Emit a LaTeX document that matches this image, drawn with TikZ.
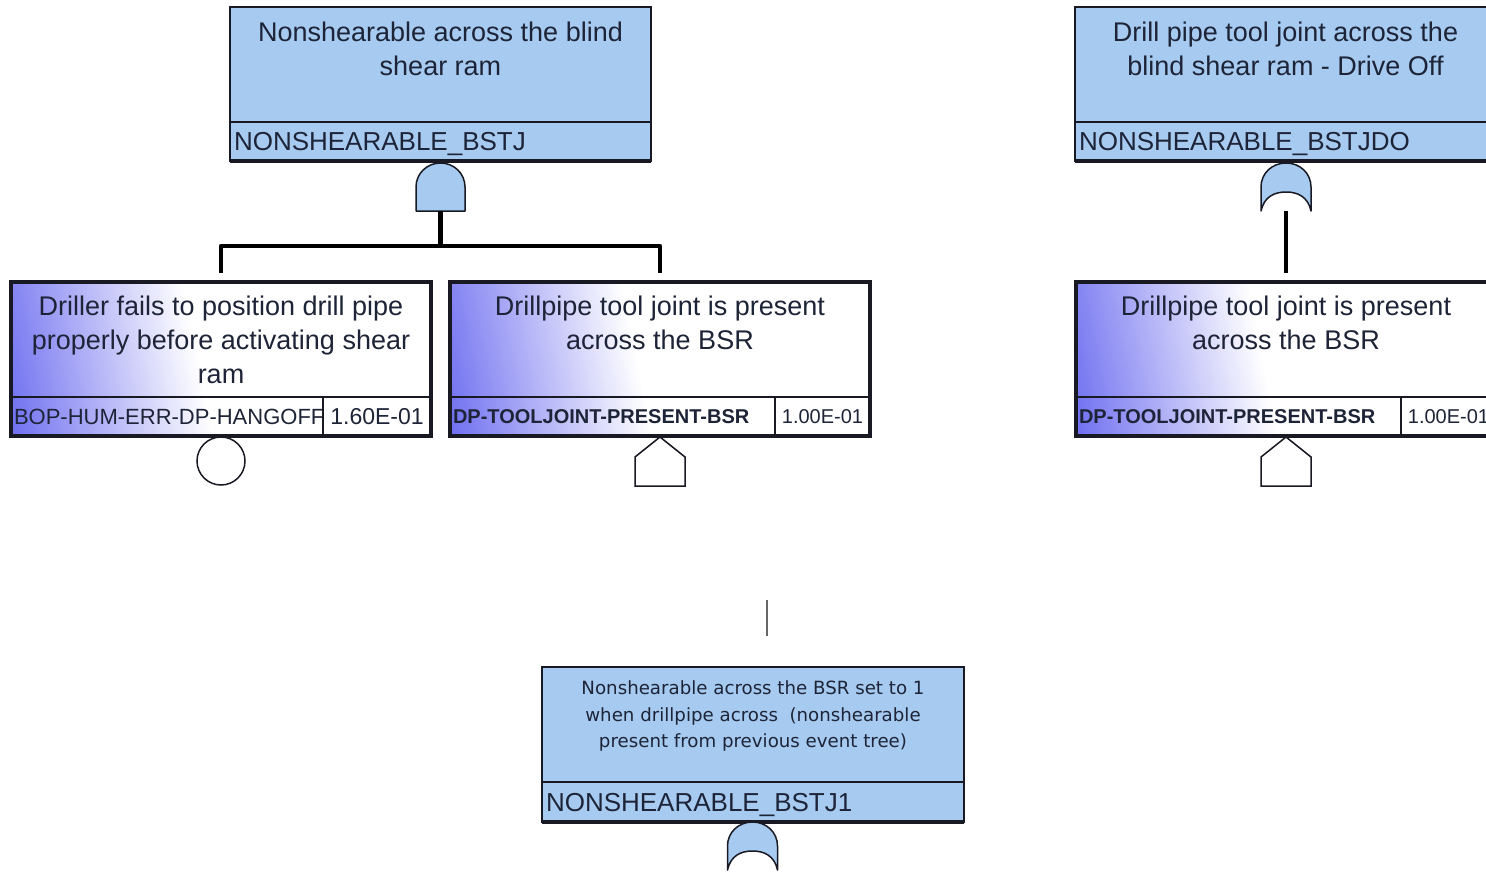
\documentclass[tikz,border=0pt]{standalone}
\usepackage{fontspec}
\setmainfont{Liberation Sans}
\newfontfamily\notefont{DejaVu Sans}
\usepackage{xcolor}
\usepackage{tikz}
\usetikzlibrary{positioning,backgrounds}

\definecolor{gateblue}{RGB}{166,202,240}
\definecolor{evblue}{RGB}{108,108,240}
\definecolor{edgeink}{RGB}{25,25,35}
\definecolor{ink}{RGB}{30,36,55}

% basic event fill: blue in the lower left corner, white from the middle on
\pgfdeclarehorizontalshading{evfade}{100bp}{color(0bp)=(evblue); color(20bp)=(evblue); color(47bp)=(white); color(100bp)=(white)}

\begin{document}
\begin{tikzpicture}[
  x=1pt, y=-1pt,
  text=ink,
  boxline/.style={draw=edgeink, line width=2pt, inner sep=0pt, outer sep=0pt},
  gatebox/.style={boxline, fill=gateblue, minimum width=421pt, minimum height=115pt},
  gateid/.style={boxline, fill=gateblue, minimum height=39pt, text width=413pt,
    inner xsep=4pt, align=left, font=\fontsize{26}{30}\selectfont,
    text height=19pt, text depth=0pt},
  boxtext/.style={align=center, inner sep=0pt, font=\fontsize{27}{34}\selectfont},
  eventbox/.style={boxline, minimum width=420pt, minimum height=115pt},
  eventid/.style={boxline, minimum height=39pt, inner xsep=3pt, align=left,
    font=\fontsize{22}{26}\selectfont, text height=15.8pt, text depth=0pt},
  eventcode/.style={eventid, font=\bfseries\fontsize{20}{24}\selectfont, text height=14.3pt},
  valuecell/.style={boxline, minimum height=39pt, font=\fontsize{20}{24}\selectfont,
    text height=14.3pt, text depth=0pt},
  frame/.style={draw=edgeink, line width=3.5pt},
  gateshape/.style={draw=edgeink, line width=1.5pt, fill=gateblue, line join=round},
  houseshape/.style={draw=edgeink, line width=1.5pt, fill=white},
  undev/.style={circle, draw=edgeink, line width=1.5pt, fill=white, minimum size=48pt, inner sep=0pt},
  link/.style={draw=black, line width=4.5pt, line join=round, shorten >=9pt},
  stub/.style={draw=black!60, line width=1.5pt},
  pics/andgate/.style={code={
    \draw[gateshape] (-24.5,24) -- (-24.5,0)
      .. controls (-24.5,-13.5) and (-13.5,-24) .. (0,-24)
      .. controls (13.5,-24) and (24.5,-13.5) .. (24.5,0) -- (24.5,24) -- cycle;
    \coordinate (-out) at (0,24);
  }},
  pics/orgate/.style={code={
    \draw[gateshape] (-25,24) -- (-25,0)
      .. controls (-25,-13.8) and (-13.8,-24) .. (0,-24)
      .. controls (13.8,-24) and (25,-13.8) .. (25,0) -- (25,24)
      .. controls (22,10) and (12,5) .. (0,5)
      .. controls (-12,5) and (-22,10) .. (-25,24) -- cycle;
    \coordinate (-out) at (0,24);
  }},
  pics/housegate/.style={code={
    \draw[houseshape] (0,-24.5) -- (25,-4.5) -- (25,24.5) -- (-25,24.5) -- (-25,-4.5) -- cycle;
  }}
]
  \useasboundingbox (0,0) rectangle (1486,872);
  \clip (0,0) rectangle (1486,872);

  % gates
  \node[gatebox] (bstj) at (440.5,64.5) {};
  \node[boxtext, below=15pt of bstj.north] (bstj-t) {Nonshearable across the blind\\shear ram};
  \node[gateid, below=0pt of bstj] (bstj-id) {NONSHEARABLE\_BSTJ};

  \node[gatebox] (bstjdo) at (1285.5,64.5) {};
  \node[boxtext, below=15pt of bstjdo.north] (bstjdo-t) {Drill pipe tool joint across the\\blind shear ram - Drive Off};
  \node[gateid, below=0pt of bstjdo] (bstjdo-id) {NONSHEARABLE\_BSTJDO};

  \node[gatebox, minimum width=422pt] (bstj1) at (753,724.5) {};
  \node[boxtext, font=\notefont\fontsize{18.2}{26.5}\selectfont, below=13.5pt of bstj1.north] (bstj1-t)
    {Nonshearable across the BSR set to 1\\when drillpipe across~ (nonshearable\\present from previous event tree)};
  \node[gateid, below=0pt of bstj1, minimum height=40pt, text width=414pt] (bstj1-id) {NONSHEARABLE\_BSTJ1};

  % basic events
  \node[eventbox] (hangoff) at (221,339.5) {};
  \node[boxtext, below=14pt of hangoff.north] (hangoff-t) {Driller fails to position drill pipe\\properly before activating shear\\ram};
  \node[eventid, anchor=north west, text width=306pt] (hangoff-id) at (hangoff.south west) {\mbox{BOP-HUM-ERR-DP-HANGOFF}};
  \node[valuecell, right=0pt of hangoff-id, minimum width=108pt, font=\fontsize{23}{26}\selectfont, text height=16.5pt] (hangoff-p) {1.60E-01};

  \node[eventbox] (tooljoint) at (660,339.5) {};
  \node[boxtext, below=14pt of tooljoint.north] (tooljoint-t) {Drillpipe tool joint is present\\across the BSR};
  \node[eventcode, anchor=north west, text width=319pt] (tooljoint-id) at (tooljoint.south west) {\mbox{DP-TOOLJOINT-PRESENT-BSR}};
  \node[valuecell, right=0pt of tooljoint-id, minimum width=95pt] (tooljoint-p) {1.00E-01};

  \node[eventbox] (tooljointdo) at (1286,339.5) {};
  \node[boxtext, below=14pt of tooljointdo.north] (tooljointdo-t) {Drillpipe tool joint is present\\across the BSR};
  \node[eventcode, anchor=north west, text width=319pt] (tooljointdo-id) at (tooljointdo.south west) {\mbox{DP-TOOLJOINT-PRESENT-BSR}};
  \node[valuecell, right=0pt of tooljointdo-id, minimum width=95pt] (tooljointdo-p) {1.00E-01};

  \begin{scope}[on background layer]
    \fill[white] (0,0) rectangle (1486,872);
    \shade[shading=evfade, shading angle=11] (hangoff.north west) rectangle (hangoff-p.south east);
    \shade[shading=evfade, shading angle=11] (tooljoint.north west) rectangle (tooljoint-p.south east);
    \shade[shading=evfade, shading angle=11] (tooljointdo.north west) rectangle (tooljointdo-p.south east);
  \end{scope}

  \draw[frame] (hangoff.north west) rectangle (hangoff-p.south east);
  \draw[frame] (tooljoint.north west) rectangle (tooljoint-p.south east);
  \draw[frame] (tooljointdo.north west) rectangle (tooljointdo-p.south east);
  \draw[edgeink, line width=4pt] (bstj-id.south west) -- (bstj-id.south east);
  \draw[edgeink, line width=4pt] (bstjdo-id.south west) -- (bstjdo-id.south east);
  \draw[edgeink, line width=4pt] (bstj1-id.south west) -- (bstj1-id.south east);

  % gate symbols and event symbols
  \pic (and1) at (440.5,187) {andgate};
  \pic (or1) at (1286,187) {orgate};
  \pic (or2) at (752.5,846) {orgate};
  \node[undev] (hangoff-s) at (221,461) {};
  \pic (house1) at (660,461.5) {housegate};
  \pic (house2) at (1286,461.5) {housegate};

  % connectors
  \draw[link] (and1-out) -- ++(0,35) -| (hangoff.north);
  \draw[link] (and1-out) -- ++(0,35) -| (tooljoint.north);
  \draw[link] (or1-out) -- (tooljointdo.north);

  \coordinate (stub-a) at (767,600);
  \coordinate (stub-b) at (767,636);
  \draw[stub] (stub-a) -- (stub-b);
\end{tikzpicture}
\end{document}
